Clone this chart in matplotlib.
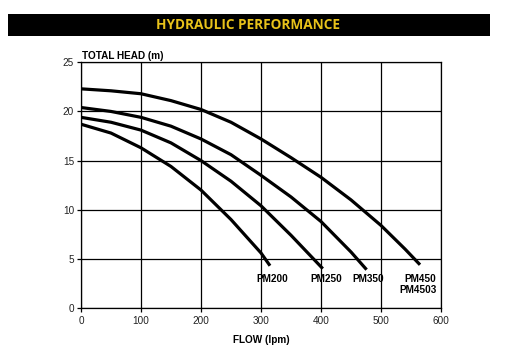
import matplotlib
matplotlib.use("Agg")
import matplotlib.pyplot as plt
from matplotlib.patches import Rectangle

plt.rcParams["font.family"] = ["Liberation Sans", "DejaVu Sans"]

# pump curves (flow in lpm, head in m)
pm450_flow = [0, 50, 100, 150, 200, 250, 300, 350, 400, 450, 500, 540, 565]
pm450_head = [22.3, 22.1, 21.8, 21.1, 20.2, 18.9, 17.2, 15.3, 13.3, 11.0, 8.4, 6.0, 4.4]

pm350_flow = [0, 50, 100, 150, 200, 250, 300, 350, 400, 450, 476]
pm350_head = [20.4, 20.0, 19.4, 18.5, 17.2, 15.6, 13.5, 11.3, 8.8, 5.7, 3.9]

pm250_flow = [0, 50, 100, 150, 200, 250, 300, 350, 403]
pm250_head = [19.4, 18.9, 18.1, 16.8, 15.0, 12.9, 10.4, 7.4, 4.0]

pm200_flow = [0, 50, 100, 150, 200, 250, 300, 315]
pm200_head = [18.7, 17.8, 16.3, 14.4, 12.0, 9.0, 5.6, 4.3]

curve_labels = ["PM200", "PM250", "PM350", "PM450\nPM4503"]
label_flow = [319, 408, 479, 592]
label_head = [2.9, 2.9, 2.9, 2.4]

x_ticks = [0, 100, 200, 300, 400, 500, 600]
y_ticks = [0, 5, 10, 15, 20, 25]

fig = plt.figure(figsize=(5.11, 3.53), dpi=100)

# black header band with the title
fig.patches.append(Rectangle((8 / 511, 0.899), 482 / 511, 0.0615,
                             transform=fig.transFigure, facecolor="black",
                             edgecolor="none"))
fig.text(0.4853, 0.929, "HYDRAULIC PERFORMANCE", color="#E8C21A",
         fontsize=9.8, fontweight="bold", ha="center", va="center",
         family=["Open Sans", "DejaVu Sans"])

ax = fig.add_axes([81 / 511, 45 / 353, 360 / 511, 245.7 / 353])

for fl, hd in [(pm450_flow, pm450_head), (pm350_flow, pm350_head),
               (pm250_flow, pm250_head), (pm200_flow, pm200_head)]:
    ax.plot(fl, hd, color="black", lw=2.3, solid_capstyle="butt",
            solid_joinstyle="round", zorder=3)

for txt, fx, hy in zip(curve_labels, label_flow, label_head):
    ha = "right" if "\n" in txt else "center"
    ax.text(fx, hy, txt, fontsize=7.2, fontweight="bold", ha=ha,
            va="center", linespacing=1.05, zorder=4)

ax.set_xlim(0, 600)
ax.set_ylim(0, 25)
ax.set_xticks(x_ticks)
ax.set_yticks(y_ticks)
ax.grid(True, color="black", lw=0.9)
ax.set_axisbelow(True)
for s in ax.spines.values():
    s.set_linewidth(0.9)
ax.tick_params(direction="out", length=3, width=0.9, labelsize=7.2,
               colors="black", labelcolor="#222222")
ax.tick_params(axis="x", pad=3)
ax.tick_params(axis="y", pad=2)

ax.set_xlabel("FLOW (lpm)", fontsize=7.2, fontweight="bold", labelpad=6)
fig.text(81.5 / 511, (353 - 56) / 353, "TOTAL HEAD (m)", fontsize=7.2,
         fontweight="bold", ha="left", va="center")

fig.savefig("out.png", dpi=100, facecolor="white")
